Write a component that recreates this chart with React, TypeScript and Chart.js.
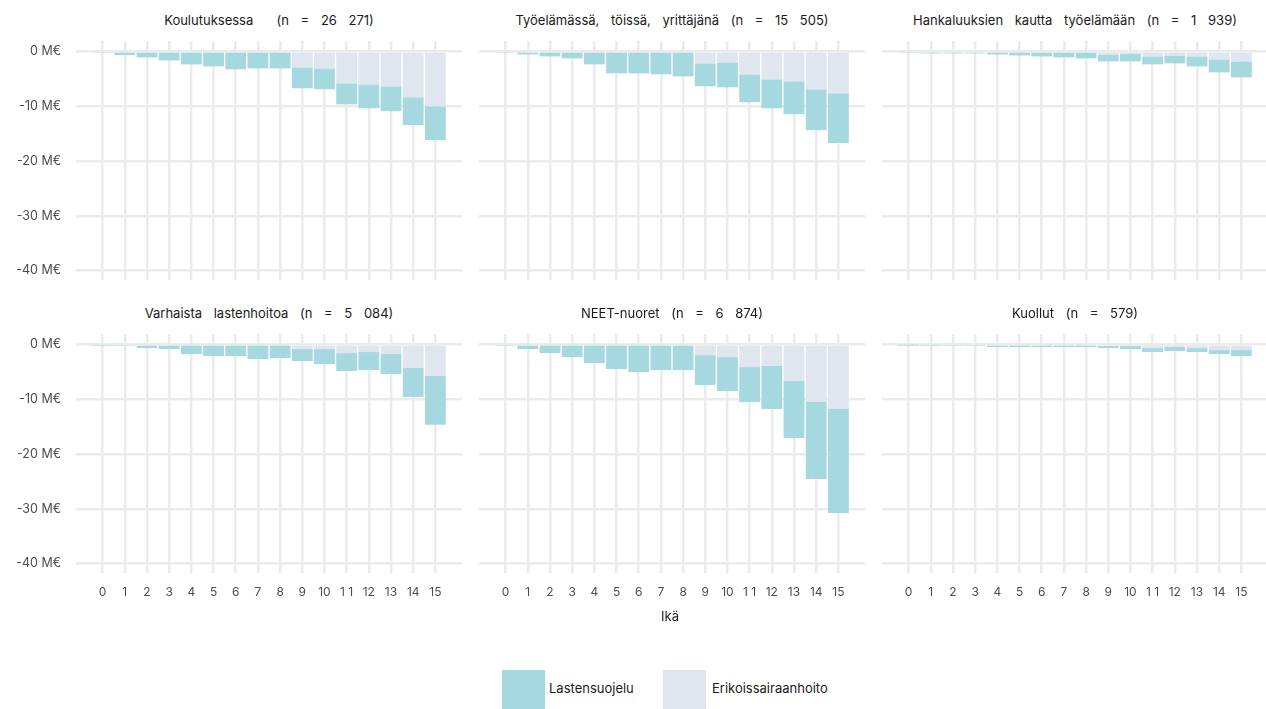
import React, { useEffect, useRef } from "react";
import { Chart, registerables } from "chart.js";

Chart.register(...registerables);

// ---------- data ----------
const AGES = [0, 1, 2, 3, 4, 5, 6, 7, 8, 9, 10, 11, 12, 13, 14, 15];
const AGE_LABELS = ["0", "1", "2", "3", "4", "5", "6", "7", "8", "9", "10", "1 1", "12", "13", "14", "15"];
const Y_TICKS = [0, -10, -20, -30, -40];
const SERIES_NAMES = ["Lastensuojelu", "Erikoissairaanhoito"];

const TITLES = [
  "Koulutuksessa  (n = 26 271)",
  "Työelämässä, töissä, yrittäjänä (n = 15 505)",
  "Hankaluuksien kautta työelämään (n = 1 939)",
  "Varhaista lastenhoitoa (n = 5 084)",
  "NEET-nuoret (n = 6 874)",
  "Kuollut (n = 579)",
];

// Lastensuojelu (M€, negative)
const LS_KOULUTUKSESSA = [-0.18, -0.67, -1.09, -1.64, -2.36, -2.73, -3.27, -3.09, -3.09, -3.82, -3.82, -3.82, -4.36, -4.55, -5.09, -6.18];
const LS_TYOELAMASSA = [-0.18, -0.55, -0.91, -1.27, -2.36, -4.0, -4.0, -4.18, -4.55, -4.18, -4.55, -5.09, -5.27, -6.0, -7.45, -9.09];
const LS_HANKALUUKSIEN = [-0.18, -0.36, -0.36, -0.36, -0.55, -0.73, -0.91, -1.09, -1.27, -1.27, -1.46, -1.45, -1.45, -1.82, -2.37, -2.91];
const LS_VARHAISTA = [-0.12, -0.3, -0.67, -0.85, -1.76, -2.12, -2.12, -2.67, -2.48, -2.18, -2.73, -3.27, -3.28, -3.63, -5.28, -8.91];
const LS_NEET = [-0.3, -0.85, -1.58, -2.31, -3.4, -4.5, -5.05, -4.68, -4.68, -5.47, -6.2, -6.39, -7.84, -10.39, -14.04, -18.97];
const LS_KUOLLUT = [-0.06, -0.12, -0.3, -0.3, -0.48, -0.48, -0.48, -0.48, -0.48, -0.37, -0.55, -0.72, -0.73, -0.72, -0.73, -1.09];

// Erikoissairaanhoito (M€, negative)
const ES_KOULUTUKSESSA = [0, 0, 0, 0, 0, 0, 0, 0, 0, -2.91, -3.09, -5.82, -6.0, -6.36, -8.36, -10.0];
const ES_TYOELAMASSA = [0, 0, 0, 0, 0, 0, 0, 0, 0, -2.18, -2.0, -4.18, -5.09, -5.45, -6.91, -7.64];
const ES_HANKALUUKSIEN = [0, 0, 0, 0, 0, 0, 0, 0, 0, -0.55, -0.36, -0.91, -0.73, -0.91, -1.45, -1.82];
const ES_VARHAISTA = [0, 0, 0, 0, 0, 0, 0, 0, 0, -0.85, -0.85, -1.58, -1.39, -1.76, -4.3, -5.76];
const ES_NEET = [0, 0, 0, 0, 0, 0, 0, 0, 0, -1.95, -2.31, -4.13, -3.95, -6.69, -10.52, -11.79];
const ES_KUOLLUT = [0, 0, 0, 0, 0, 0, 0, 0, 0, -0.3, -0.3, -0.67, -0.48, -0.67, -1.03, -1.03];

const LS_ALL = [LS_KOULUTUKSESSA, LS_TYOELAMASSA, LS_HANKALUUKSIEN, LS_VARHAISTA, LS_NEET, LS_KUOLLUT];
const ES_ALL = [ES_KOULUTUKSESSA, ES_TYOELAMASSA, ES_HANKALUUKSIEN, ES_VARHAISTA, ES_NEET, ES_KUOLLUT];

// ---------- style / layout ----------
const LS_COLOR = "#a6d8e0";
const ES_COLOR = "#dfe6ef";
const GRID_COLOR = "#ebebeb";
const FONT = "Inter, 'Open Sans', sans-serif";
const TICK_COLOR = "#4d4d4d";

const X_MIN = -1.2;
const X_MAX = 16.2;
const Y_MIN = -41.7;
const Y_MAX = 1.9;

const PANEL_LEFT = [76, 479, 882];
const PANEL_W = 386;
const ROW_TOP = [40.6, 333.9];
const PANEL_H = 239.5;
const Y_AXIS_W = 76;
const X_AXIS_H = 32;
const PAD = 10;

function Panel({ idx }: { idx: number }) {
  const ref = useRef<HTMLCanvasElement>(null);
  const row = Math.floor(idx / 3);
  const col = idx % 3;
  const isLeft = col === 0;
  const isBottom = row === 1;

  const leftSpace = isLeft ? Y_AXIS_W : PAD;
  const canvasLeft = PANEL_LEFT[col] - leftSpace;
  const canvasTop = ROW_TOP[row] - PAD;
  const canvasW = leftSpace + PANEL_W + PAD;
  const canvasH = PAD + PANEL_H + (isBottom ? X_AXIS_H : PAD);

  useEffect(() => {
    if (!ref.current) return;
    const ls = LS_ALL[idx];
    const es = ES_ALL[idx];
    const chart = new Chart(ref.current, {
      type: "bar",
      data: {
        datasets: [
          {
            label: SERIES_NAMES[1],
            data: AGES.map((a, i) => ({ x: a, y: es[i] })),
            backgroundColor: ES_COLOR,
            borderWidth: 0,
            stack: "s",
          },
          {
            label: SERIES_NAMES[0],
            data: AGES.map((a, i) => ({ x: a, y: ls[i] })),
            backgroundColor: LS_COLOR,
            borderWidth: 0,
            stack: "s",
          },
        ],
      },
      options: {
        animation: false,
        responsive: false,
        maintainAspectRatio: false,
        events: [],
        layout: {
          padding: {
            top: PAD,
            bottom: isBottom ? 0 : PAD,
            left: isLeft ? 0 : PAD,
            right: PAD,
          },
        },
        datasets: { bar: { barPercentage: 0.94, categoryPercentage: 1 } } as any,
        plugins: {
          legend: { display: false },
          tooltip: { enabled: false },
          title: { display: false },
        },
        scales: {
          x: {
            type: "linear",
            min: X_MIN,
            max: X_MAX,
            offset: false,
            stacked: true,
            afterBuildTicks: (s: any) => {
              s.ticks = AGES.map((v) => ({ value: v }));
            },
            afterFit: (s: any) => {
              s.height = isBottom ? X_AXIS_H : 0;
              s.paddingLeft = 0;
              s.paddingRight = 0;
              s.paddingTop = 0;
              s.paddingBottom = 0;
            },
            grid: { color: GRID_COLOR, lineWidth: 2.5, drawTicks: false, offset: false },
            border: { display: false },
            ticks: {
              display: isBottom,
              padding: 12,
              autoSkip: false,
              maxRotation: 0,
              color: TICK_COLOR,
              font: { family: FONT, size: 12 },
              callback: (v: any) => {
                const i = AGES.indexOf(Number(v));
                return i >= 0 ? AGE_LABELS[i] : "";
              },
            },
          },
          y: {
            type: "linear",
            min: Y_MIN,
            max: Y_MAX,
            stacked: true,
            afterBuildTicks: (s: any) => {
              s.ticks = Y_TICKS.map((v) => ({ value: v }));
            },
            afterFit: (s: any) => {
              s.width = isLeft ? Y_AXIS_W : 0;
              s.paddingLeft = 0;
              s.paddingRight = 0;
              s.paddingTop = 0;
              s.paddingBottom = 0;
            },
            grid: { color: GRID_COLOR, lineWidth: 2.5, drawTicks: false },
            border: { display: false },
            ticks: {
              display: isLeft,
              padding: 15,
              color: TICK_COLOR,
              font: { family: FONT, size: 12.5 },
              callback: (v: any) => `${v} M€`,
            },
          },
        },
      },
    } as any);
    return () => chart.destroy();
  }, [idx]);

  const titleTop = row === 0 ? 10 : 303;

  return (
    <>
      <div
        style={{
          position: "absolute",
          left: PANEL_LEFT[col],
          width: PANEL_W,
          top: titleTop,
          height: 20,
          lineHeight: "20px",
          textAlign: "center",
          fontFamily: FONT,
          fontSize: 13,
          color: "#1a1a1a",
          whiteSpace: "pre",
          wordSpacing: 8,
        }}
      >
        {TITLES[idx]}
      </div>
      <canvas
        ref={ref}
        width={canvasW}
        height={canvasH}
        style={{
          position: "absolute",
          left: canvasLeft,
          top: canvasTop,
          width: canvasW,
          height: canvasH,
        }}
      />
    </>
  );
}

export default function App() {
  return (
    <div
      style={{
        position: "absolute",
        left: 0,
        top: 0,
        width: 1266,
        height: 709,
        overflow: "hidden",
        background: "#ffffff",
        fontFamily: FONT,
      }}
    >
      {[0, 1, 2, 3, 4, 5].map((i) => (
        <Panel key={i} idx={i} />
      ))}
      <div
        style={{
          position: "absolute",
          left: 620,
          width: 100,
          top: 606,
          height: 20,
          lineHeight: "20px",
          textAlign: "center",
          fontSize: 13,
          color: "#1a1a1a",
        }}
      >
        Ikä
      </div>
      <div style={{ position: "absolute", left: 502, top: 670, width: 43, height: 39, background: LS_COLOR }} />
      <div
        style={{ position: "absolute", left: 549, top: 678, height: 20, lineHeight: "20px", fontSize: 13, color: "#1a1a1a" }}
      >
        {SERIES_NAMES[0]}
      </div>
      <div style={{ position: "absolute", left: 663, top: 670, width: 43, height: 39, background: ES_COLOR }} />
      <div
        style={{ position: "absolute", left: 712, top: 678, height: 20, lineHeight: "20px", fontSize: 13, color: "#1a1a1a" }}
      >
        {SERIES_NAMES[1]}
      </div>
    </div>
  );
}
